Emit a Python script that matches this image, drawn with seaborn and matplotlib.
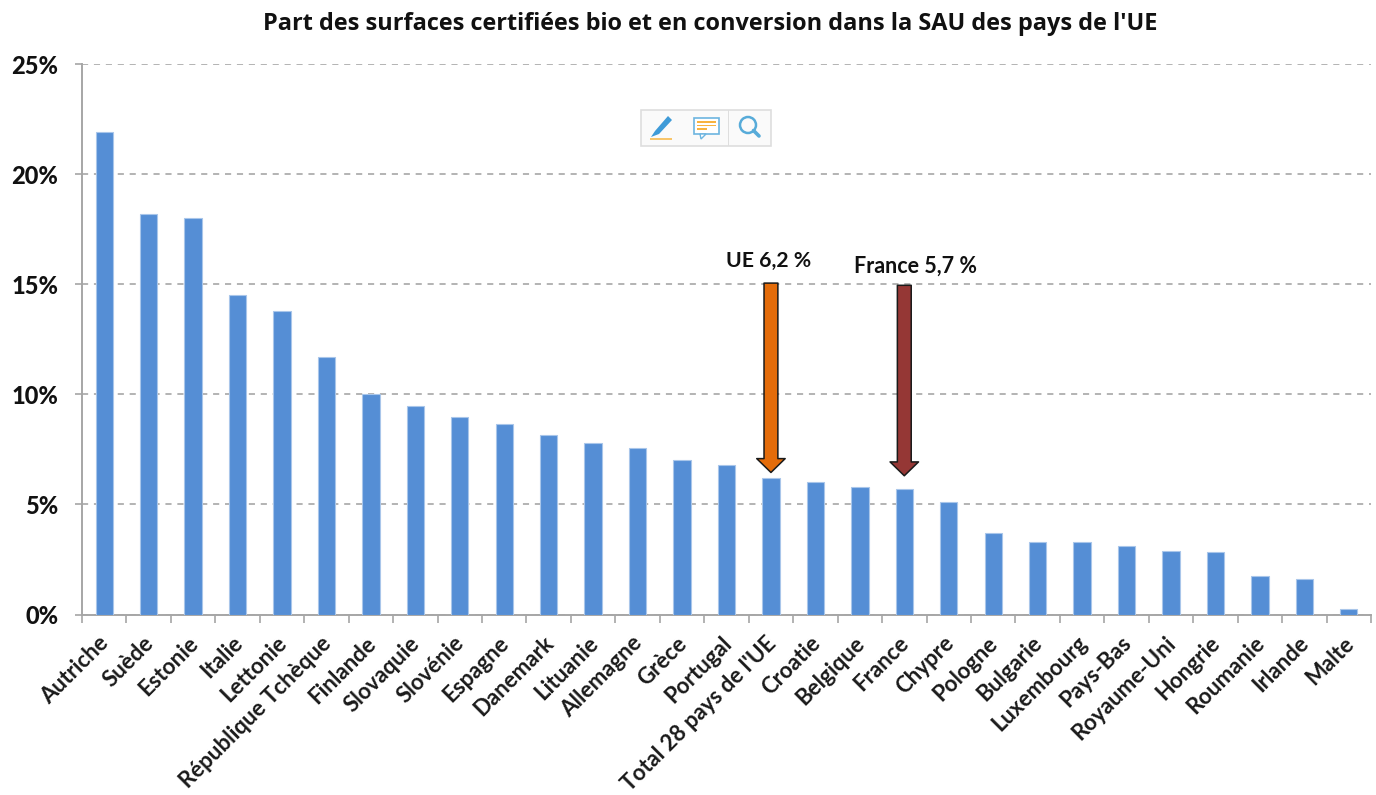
import matplotlib
matplotlib.use("Agg")
import matplotlib.pyplot as plt
from matplotlib.patches import Rectangle, Polygon, Ellipse
from matplotlib.ticker import FixedLocator, FuncFormatter
from matplotlib.transforms import ScaledTranslation
import seaborn as sns
import pandas as pd

countries = ["Autriche", "Suède", "Estonie", "Italie", "Lettonie", "République Tchèque",
             "Finlande", "Slovaquie", "Slovénie", "Espagne", "Danemark", "Lituanie",
             "Allemagne", "Grèce", "Portugal", "Total 28 pays de l'UE", "Croatie", "Belgique",
             "France", "Chypre", "Pologne", "Bulgarie", "Luxembourg", "Pays-Bas",
             "Royaume-Uni", "Hongrie", "Roumanie", "Irlande", "Malte"]
shares = [21.9, 18.2, 18.0, 14.5, 13.8, 11.7, 10.0, 9.45, 8.95, 8.65, 8.15, 7.8, 7.55, 7.0,
          6.8, 6.2, 6.0, 5.8, 5.7, 5.1, 3.7, 3.3, 3.3, 3.1, 2.9, 2.85, 1.75, 1.6, 0.25]
y_ticks = [0, 5, 10, 15, 20, 25]
title = "Part des surfaces certifiées bio et en conversion dans la SAU des pays de l'UE"
ue_label = "UE 6,2 %"
fr_label = "France 5,7 %"

sns.set_theme(style="white")
plt.rcParams["font.family"] = ["Lato", "DejaVu Sans"]

W, H = 1376, 795
fig = plt.figure(figsize=(W / 100, H / 100), dpi=100)
L, R, T, B = 82, 1371, 64, 614.5
ax = fig.add_axes([L / W, 1 - B / H, (R - L) / W, (B - T) / H])

df = pd.DataFrame({"pays": countries, "part": shares})
sns.barplot(data=df, x="pays", y="part", color="#558ED5", saturation=1, width=0.39, ax=ax,
            edgecolor="#A9C6EA", linewidth=0.8, zorder=3)

ax.set_xlim(-0.5, len(countries) - 0.5)
ax.set_ylim(0, 25)
ax.set_xlabel("")
ax.set_ylabel("")

ax.yaxis.set_major_locator(FixedLocator(y_ticks))
ax.yaxis.set_major_formatter(FuncFormatter(lambda v, _: f"{int(v)}%"))
ax.grid(axis="y", color="#AEAEAE", linestyle=(0, (3.4, 3.2)), linewidth=1.3, zorder=0)
ax.grid(axis="x", visible=False)
ax.set_axisbelow(True)

for s in ("top", "right"):
    ax.spines[s].set_visible(False)
for s in ("left", "bottom"):
    ax.spines[s].set_color("#A6A6A6")
    ax.spines[s].set_linewidth(1.4)

ax.tick_params(axis="y", which="major", left=True, length=5, width=1.2, color="#A6A6A6",
               labelsize=17, pad=12)
for t in ax.get_yticklabels():
    t.set_fontweight("black")
    t.set_color("#111111")

ax.set_xticks(range(len(countries)))
ax.set_xticklabels(countries, rotation=45, ha="right", rotation_mode="anchor",
                   fontsize=16.0, fontweight="bold", color="#1a1a1a")
ax.tick_params(axis="x", which="major", bottom=False, length=0, pad=13)
ax.set_xticks([i - 0.5 for i in range(len(countries) + 1)], minor=True)
ax.tick_params(axis="x", which="minor", bottom=True, length=5.5, width=1.2, color="#A6A6A6")
shift = ScaledTranslation(-6 / 100, 0, fig.dpi_scale_trans)
for t in ax.get_xticklabels():
    t.set_transform(t.get_transform() + shift)

fig.text(710 / W, 1 - 24 / H, title, ha="center", va="center", fontsize=16.95,
         fontweight="bold", color="#111111", family="Open Sans")

# Arrows
arrow_style = "simple,head_width=1.95,head_length=0.95,tail_width=0.95"
ax.annotate("", xy=(15, 6.45), xytext=(15, 15.05),
            arrowprops=dict(arrowstyle=arrow_style, mutation_scale=10.5, fc="#E46C0A", ec="#1a1a1a",
                            lw=1.1, shrinkA=0, shrinkB=0), zorder=5)
ax.annotate("", xy=(18, 6.3), xytext=(18, 14.95),
            arrowprops=dict(arrowstyle=arrow_style, mutation_scale=10.5, fc="#953735", ec="#1a1a1a",
                            lw=1.1, shrinkA=0, shrinkB=0), zorder=5)
fig.text(769 / W, 1 - 261 / H, ue_label, ha="center", va="center", fontsize=15.3,
         fontweight="bold", color="#111111")
fig.text(915 / W, 1 - 266 / H, fr_label, ha="center", va="center", fontsize=15.5,
         fontweight="bold", color="#111111")

# Toolbar overlay
def px(x, y):
    return (x / W, 1 - y / H)

def frect(x, y, w, h, **kw):
    fig.add_artist(Rectangle(px(x, y + h), w / W, h / H, transform=fig.transFigure, **kw))

def fpoly(pts, **kw):
    fig.add_artist(Polygon([px(*p) for p in pts], closed=True, transform=fig.transFigure, **kw))

frect(641, 110, 130, 36, fc="#FAFAFA", ec="#DEDEDE", lw=1.2, zorder=6)
frect(684.5, 110, 0.8, 36, fc="#DEDEDE", ec="none", zorder=7)
frect(728, 110, 0.8, 36, fc="#DEDEDE", ec="none", zorder=7)
# pen
fpoly([(651, 137), (655, 131), (668, 116), (672, 120), (659, 134)], fc="#3F9BD8", ec="none", zorder=8)
frect(650, 138, 22, 2, fc="#F8C56A", ec="none", zorder=8)
# bubble
frect(694, 118, 25, 16, fc="#FFFFFF", ec="#6DB5E0", lw=1.2, zorder=8)
fpoly([(700, 134), (706, 134), (701, 139)], fc="#FFFFFF", ec="#6DB5E0", lw=1, zorder=8)
for yy, ww in ((121.5, 19), (125, 19), (128.5, 10)):
    frect(697, yy, ww, 1.4, fc="#F8B340", ec="none", zorder=9)
# magnifier
fig.add_artist(Ellipse(px(748, 125), 16 / W, 16 / H, transform=fig.transFigure, fc="none", ec="#57ABD9",
                       lw=1.8, zorder=8))
fig.add_artist(plt.Line2D([753.5 / W, 759 / W], [1 - 130.5 / H, 1 - 136 / H], color="#57ABD9", lw=2.6, zorder=8))

fig.savefig("out.png", dpi=100, facecolor="white")
